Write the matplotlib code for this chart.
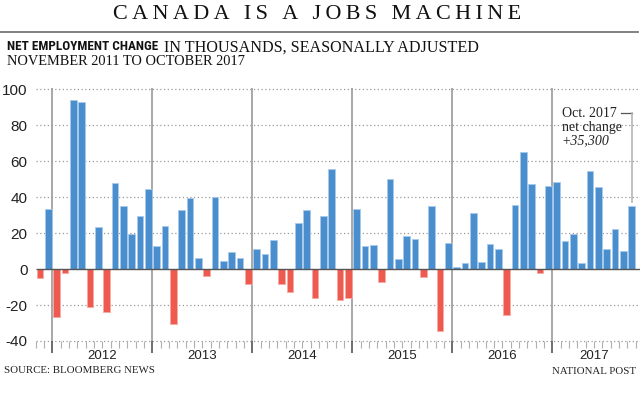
import numpy as np
import pandas as pd
import matplotlib
matplotlib.use('Agg')
import matplotlib.pyplot as plt
from matplotlib.lines import Line2D
from matplotlib import transforms

# net employment change, thousands, Nov 2011 - Oct 2017
months = pd.period_range('2011-11', '2017-10', freq='M')
values = [
    -5.2, 33.6,
    -26.7, -2.0, 94.1, 93.1, -21.2, 23.6, -23.6, 47.7, 34.9, 19.7, 29.3, 44.3,
    12.6, 23.9, -30.6, 33.0, 39.5, 5.9, -4.1, 39.9, 4.5, 9.5, 6.1, -8.5,
    10.9, 8.5, 16.1, -8.3, -13.0, 25.4, 32.7, -16.1, 29.5, 55.7, -17.1, -16.0,
    33.2, 13.0, 13.4, -7.2, 50.3, 5.4, 18.2, 16.5, -4.3, 35.1, -34.5, 14.3,
    1.1, 3.3, 31.2, 3.9, 13.7, 11.1, -25.8, 35.6, 64.9, 47.1, -2.4, 46.2,
    48.4, 15.4, 19.5, 3.3, 54.5, 45.5, 10.9, 22.3, 10.0, 35.3,
]
year_labels = ['2012', '2013', '2014', '2015', '2016', '2017']
y_ticks = [-40, -20, 0, 20, 40, 60, 80, 100]
note_lines = ['Oct. 2017', 'net change', '+35,300']

BLUE = '#4a8ecd'
RED = '#ef5a50'
SERIF = ['Liberation Serif', 'DejaVu Serif']
SANS = ['Liberation Sans', 'DejaVu Sans']
NARROW = ['Roboto Condensed', 'Liberation Sans']

fig = plt.figure(figsize=(6.4, 3.94), dpi=100)
W, H = 640., 394.

ax = fig.add_axes([35.8/W, (H-341)/H, 600/W, (341-88.3)/H])

vals = np.array(values)
x = np.arange(len(vals))
cols = [BLUE if v >= 0 else RED for v in vals]
edges = ['#a8cbec' if v >= 0 else '#f7aaa4' for v in vals]
ax.bar(x, vals, width=0.8, color=cols, edgecolor=edges, linewidth=0.6, zorder=3)

ax.set_xlim(-0.5, len(vals)-0.5)
ax.set_ylim(-40, 100.5)

# gridlines, dotted, zero line solid
for yt in y_ticks:
    if yt == 0:
        ax.hlines(0, -0.5, len(vals), color='#555555', lw=1.0, zorder=4, clip_on=False)
    else:
        ax.hlines(yt, -0.5, len(vals), color='#9a9a9a', lw=0.9, linestyles=(0, (1, 2)),
                  zorder=1, clip_on=False)

# year boundaries
year_starts = [i - 0.5 for i, m in enumerate(months) if m.month == 1]
for b in year_starts:
    ax.axvline(b, color='#999999', lw=1.2, zorder=0)

ax.set_xticks(year_starts)
ax.set_xticks(np.arange(len(vals)+1) - 0.5, minor=True)
ax.tick_params(axis='x', which='major', length=8.6, width=1.2, color='#555555',
               labelbottom=False)
ax.tick_params(axis='x', which='minor', length=5, width=0.8, color='#b0b0b0')

ax.set_yticks(y_ticks)
ax.set_yticklabels([str(v) for v in y_ticks], family=SANS, fontsize=11, color='#222222')
ax.tick_params(axis='y', length=0, pad=6)

for s in ax.spines.values():
    s.set_visible(False)

# year labels centred on the visible months of each year
trans = transforms.blended_transform_factory(ax.transData, ax.transAxes)
for lab in year_labels:
    idx = [i for i, m in enumerate(months) if str(m.year) == lab]
    ax.text(np.mean(idx), -(356-341)/252.7, lab, transform=trans, ha='center', va='center',
            family=SANS, fontsize=9.5, color='#222222')

# annotation for last month
last = len(vals) - 1
px = 1/8.333
py = 1/1.7986
nx = last - (632-562)*px
ny = [86.7, 86.7 - 14*py, 86.7 - 27.5*py]
ax.text(nx, ny[0], note_lines[0], ha='left', va='center', family=SERIF, fontsize=10, color='#222222')
ax.text(nx, ny[1], note_lines[1], ha='left', va='center', family=SERIF, fontsize=10, color='#222222')
ax.text(nx, ny[2], note_lines[2], ha='left', va='center', family=SERIF, fontsize=10,
        style='italic', color='#222222')
ax.plot([last - 11*px, last], [ny[0], ny[0]], color='#555555', lw=0.9, clip_on=False)
ax.plot([last, last], [ny[0], vals[-1] + 2], color='#b5b5b5', lw=1.2, clip_on=False)

# header
title = '\u2009'.join('CANADA IS A JOBS MACHINE')
fig.text(317.5/W, 1 - 14.5/H, title, ha='center', va='center', family=SERIF,
         fontsize=15.9, color='#111111')
fig.add_artist(Line2D([0, 638/W], [1 - 31.7/H, 1 - 31.7/H], color='#777777', lw=1.3))

t1 = fig.text(7/W, 1 - 47/H, 'NET EMPLOYMENT CHANGE', ha='left', va='center',
              family=NARROW, weight='bold', fontsize=9.5, color='#111111')
fig.canvas.draw()
bb = t1.get_window_extent(fig.canvas.get_renderer())
fig.text((bb.x1 + 6)/W, 1 - 47.5/H, 'IN THOUSANDS, SEASONALLY ADJUSTED', ha='left', va='center',
         family=SERIF, fontsize=11.6, color='#111111')
fig.text(7/W, 1 - 61.5/H, 'NOVEMBER 2011 TO OCTOBER 2017', ha='left', va='center',
         family=SERIF, fontsize=10.4, color='#111111')

# footer
fig.text(4/W, 1 - 370.5/H, 'SOURCE: BLOOMBERG NEWS', ha='left', va='center',
         family=SERIF, fontsize=7.8, color='#222222')
fig.text(636/W, 1 - 371/H, 'NATIONAL POST', ha='right', va='center',
         family=SERIF, fontsize=7.8, color='#222222')

fig.savefig('out.png', dpi=100)
